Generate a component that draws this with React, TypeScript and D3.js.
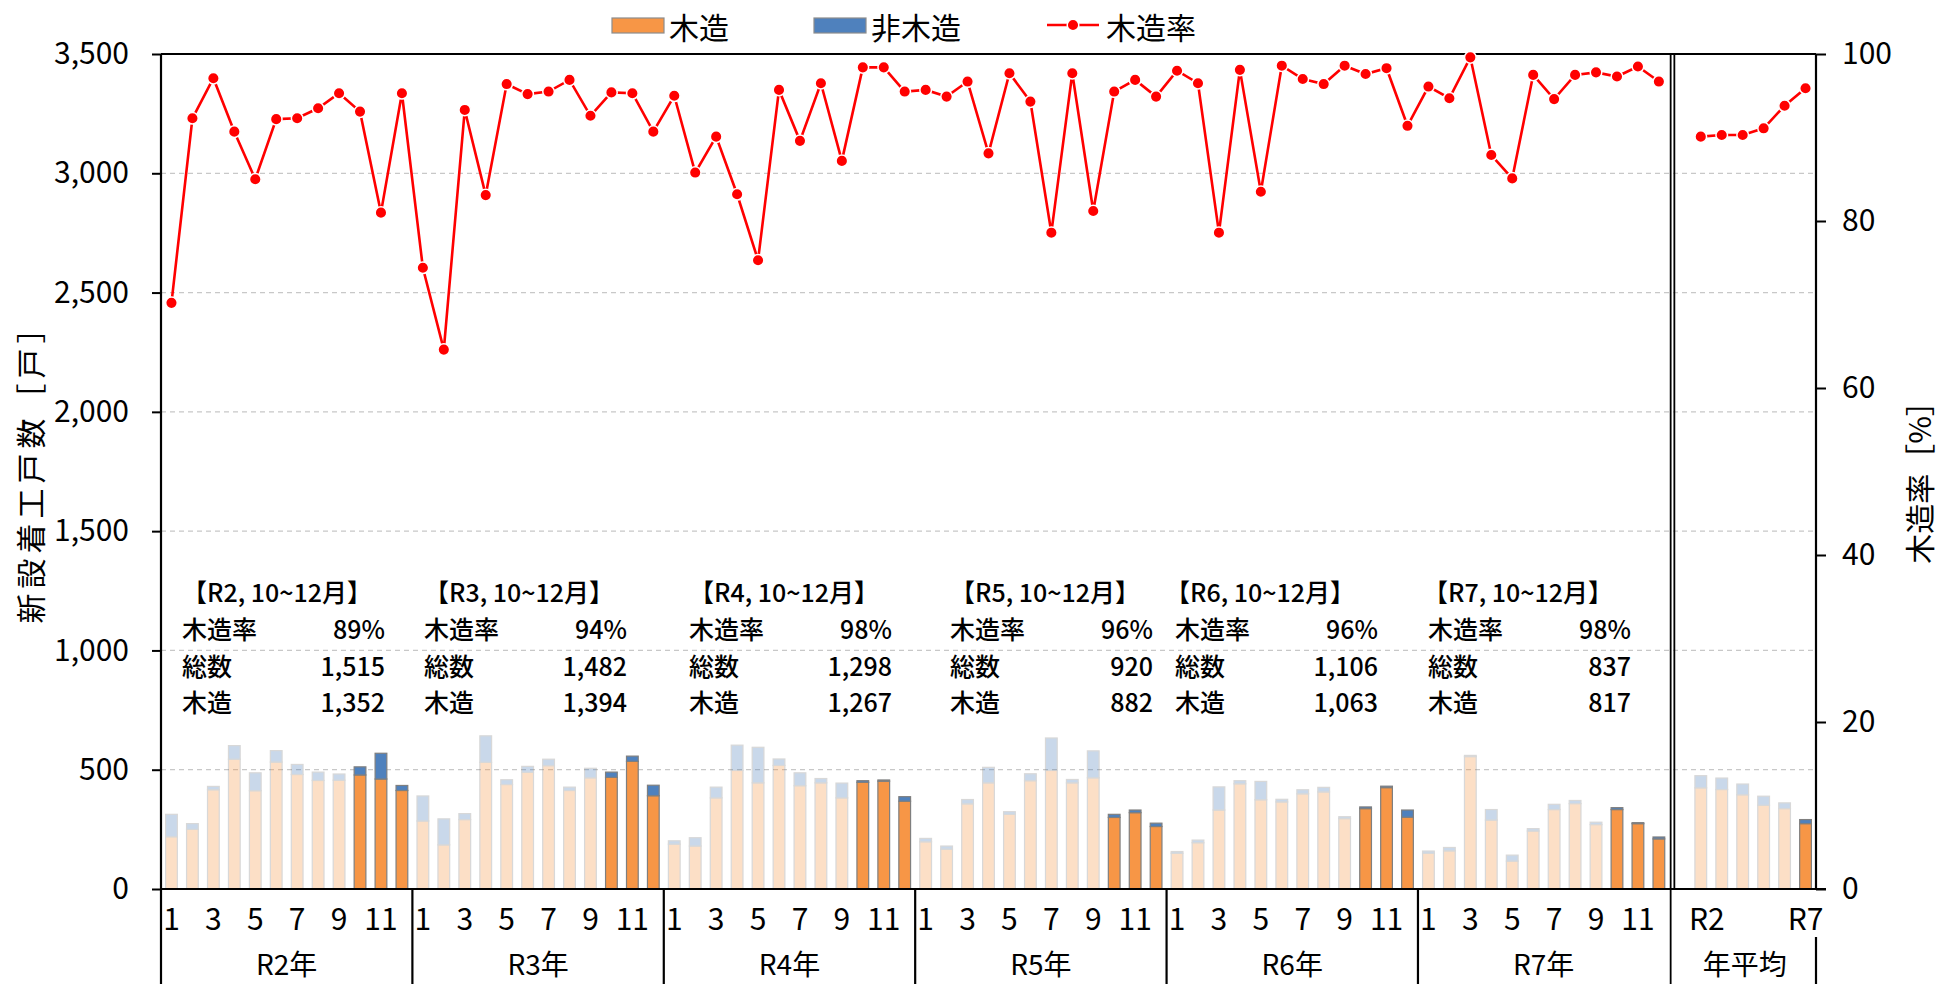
import React, { useEffect, useRef } from 'react';
import * as d3 from 'd3';

// years and months
const years = ['R2', 'R3', 'R4', 'R5', 'R6', 'R7'];
const monthTicks = [1, 3, 5, 7, 9, 11];

// monthly wooden housing starts (R2..R7, Jan..Dec)
const woodMonthly = [
  219, 250, 416, 544, 412, 532, 480, 455, 456, 478, 461, 413,
  285, 185, 291, 531, 438, 489, 517, 413, 466, 468, 535, 391,
  188, 180, 382, 497, 445, 518, 433, 445, 382, 447, 452, 368,
  198, 167, 357, 445, 313, 454, 497, 445, 466, 300, 320, 262,
  150, 194, 331, 441, 374, 365, 399, 407, 295, 337, 425, 301,
  150, 160, 555, 289, 117, 243, 333, 358, 270, 333, 274, 210,
];

// monthly non-wooden housing starts
const nonWoodMonthly = [
  94, 24, 14, 57, 75, 48, 42, 35, 26, 34, 108, 21,
  105, 109, 25, 111, 20, 25, 27, 14, 40, 22, 22, 44,
  14, 35, 45, 106, 149, 27, 54, 18, 62, 7, 5, 19,
  14, 13, 18, 65, 11, 29, 136, 14, 113, 13, 11, 14,
  7, 11, 97, 13, 77, 11, 17, 19, 8, 7, 6, 30,
  9, 14, 5, 44, 25, 10, 22, 13, 10, 8, 4, 8,
];

// monthly wood ratio [%]
const ratioMonthly = [
  70.2, 92.3, 97.1, 90.7, 85.0, 92.2, 92.3, 93.5, 95.3, 93.1, 81.0, 95.3,
  74.4, 64.6, 93.3, 83.1, 96.4, 95.2, 95.5, 96.9, 92.6, 95.4, 95.3, 90.7,
  95.0, 85.8, 90.1, 83.2, 75.3, 95.7, 89.6, 96.5, 87.2, 98.4, 98.4, 95.5,
  95.7, 94.9, 96.7, 88.1, 97.7, 94.3, 78.6, 97.7, 81.2, 95.5, 96.9, 94.9,
  98.0, 96.5, 78.6, 98.1, 83.5, 98.6, 97.0, 96.4, 98.6, 97.6, 98.3, 91.4,
  96.1, 94.7, 99.6, 87.9, 85.1, 97.5, 94.6, 97.5, 97.8, 97.3, 98.5, 96.7,
];

// yearly averages
const woodAnnual = [424, 417, 395, 351, 337, 274];
const nonWoodAnnual = [51, 48, 45, 38, 24, 17];
const ratioAnnual = [90.1, 90.3, 90.3, 91.1, 93.8, 95.9];

// Oct-Dec summary text
const q4Rate = [89, 94, 98, 96, 96, 98];
const q4Total = [1515, 1482, 1298, 920, 1106, 837];
const q4Wood = [1352, 1394, 1267, 882, 1063, 817];

const leftTicks = [0, 500, 1000, 1500, 2000, 2500, 3000, 3500];
const rightTicks = [0, 20, 40, 60, 80, 100];

const W = 1939;
const H = 984;
const left = 161, right = 1816, top = 54, bottom = 889;
const FONT = "'Noto Sans CJK JP', 'Noto Sans', sans-serif";
const ORANGE = '#F79646';
const BLUE = '#4F81BD';
const RED = '#FF0000';

// annotation layout
const blockLeft = [182, 424, 689, 950, 1175, 1428];
const titleDx = [0, 0, 0, 0, -10, -5];

const App: React.FC = () => {
  const ref = useRef<SVGSVGElement | null>(null);

  useEffect(() => {
    if (!ref.current) return;
    const svg = d3.select(ref.current);
    svg.selectAll('*').remove();

    const x = d3
      .scaleBand<number>()
      .domain(d3.range(79))
      .range([left, right])
      .paddingInner(0.44)
      .paddingOuter(0.22);
    const step = x.step();
    const cx = (i: number) => (x(i) as number) + x.bandwidth() / 2;
    const y = d3.scaleLinear().domain([0, 3500]).range([bottom, top]);
    const yR = d3.scaleLinear().domain([0, 100]).range([bottom, top]);
    const sepX = left + 72 * step;

    // gridlines
    svg
      .append('g')
      .selectAll('line')
      .data(leftTicks.filter((t) => t > 0 && t < 3500))
      .join('line')
      .attr('x1', left)
      .attr('x2', right)
      .attr('y1', (d) => y(d))
      .attr('y2', (d) => y(d))
      .attr('stroke', '#c8c8c8')
      .attr('stroke-width', 1.2)
      .attr('stroke-dasharray', '5,4');

    // bars (Oct-Dec and the latest annual average in full colour)
    const bars = [
      ...woodMonthly.map((w, i) => ({ slot: i, wood: w, non: nonWoodMonthly[i], hi: i % 12 >= 9 })),
      ...woodAnnual.map((w, i) => ({ slot: 73 + i, wood: w, non: nonWoodAnnual[i], hi: i === 5 })),
    ];
    const bg = svg
      .append('g')
      .selectAll('g')
      .data(bars)
      .join('g')
      .attr('opacity', (d) => (d.hi ? 1 : 0.3));
    bg.append('rect')
      .attr('x', (d) => x(d.slot) as number)
      .attr('width', x.bandwidth())
      .attr('y', (d) => y(d.wood))
      .attr('height', (d) => y(0) - y(d.wood))
      .attr('fill', ORANGE)
      .attr('stroke', '#7f7f7f')
      .attr('stroke-width', 1.2);
    bg.append('rect')
      .attr('x', (d) => x(d.slot) as number)
      .attr('width', x.bandwidth())
      .attr('y', (d) => y(d.wood + d.non))
      .attr('height', (d) => y(d.wood) - y(d.wood + d.non))
      .attr('fill', BLUE)
      .attr('stroke', '#7f7f7f')
      .attr('stroke-width', 1.2);

    // left axis
    const ga = svg
      .append('g')
      .attr('transform', `translate(${left},0)`)
      .call(d3.axisLeft(y).tickValues(leftTicks).tickSize(9).tickPadding(23).tickFormat(d3.format(',')));
    ga.select('.domain').remove();
    ga.selectAll('line').attr('stroke', '#000').attr('stroke-width', 2);
    ga.selectAll('text').attr('font-size', 30).attr('font-family', FONT).attr('fill', '#000');

    // right axis
    const gr = svg
      .append('g')
      .attr('transform', `translate(${right},0)`)
      .call(d3.axisRight(yR).tickValues(rightTicks).tickSize(10).tickPadding(16));
    gr.select('.domain').remove();
    gr.selectAll('line').attr('stroke', '#000').attr('stroke-width', 2);
    gr.selectAll('text').attr('font-size', 30).attr('font-family', FONT).attr('fill', '#000');

    // frame
    const frame = svg.append('g').attr('stroke', '#000').attr('stroke-width', 2.2);
    frame.append('line').attr('x1', left).attr('x2', left).attr('y1', top).attr('y2', H);
    frame.append('line').attr('x1', right).attr('x2', right).attr('y1', top).attr('y2', bottom);
    frame.append('line').attr('x1', right).attr('x2', right).attr('y1', 937).attr('y2', H);
    frame.append('line').attr('x1', left).attr('x2', right).attr('y1', top).attr('y2', top);
    frame.append('line').attr('x1', left).attr('x2', right + 10).attr('y1', bottom).attr('y2', bottom);
    frame.append('line').attr('x1', sepX + 1.3).attr('x2', sepX + 1.3).attr('y1', top).attr('y2', H).attr('stroke-width', 1.8);
    frame.append('line').attr('x1', sepX + 5).attr('x2', sepX + 5).attr('y1', top).attr('y2', bottom).attr('stroke-width', 1.8);
    frame
      .selectAll('line.grp')
      .data(d3.range(1, 6))
      .join('line')
      .attr('class', 'grp')
      .attr('x1', (g) => left + g * 12 * step)
      .attr('x2', (g) => left + g * 12 * step)
      .attr('y1', bottom)
      .attr('y2', H);

    // category labels
    const lab = svg.append('g').attr('font-family', FONT).attr('font-size', 30).attr('text-anchor', 'middle').attr('fill', '#000');
    years.forEach((yr, g) => {
      monthTicks.forEach((m) => {
        lab.append('text').attr('x', cx(g * 12 + m - 1)).attr('y', 917).attr('dominant-baseline', 'central').text(m);
      });
      lab
        .append('text')
        .attr('x', left + (g * 12 + 6) * step)
        .attr('y', 963)
        .attr('font-size', 28)
        .attr('dominant-baseline', 'central')
        .text(`${yr}年`);
    });
    lab.append('text').attr('x', cx(73) + 6).attr('y', 917).attr('dominant-baseline', 'central').text(years[0]);
    lab.append('text').attr('x', cx(78)).attr('y', 917).attr('dominant-baseline', 'central').text(years[5]);
    lab
      .append('text')
      .attr('x', (sepX + right) / 2 + 2)
      .attr('y', 963)
      .attr('font-size', 28)
      .attr('dominant-baseline', 'central')
      .text('年平均');

    // axis titles
    svg
      .append('text')
      .attr('transform', 'translate(29,466) rotate(-90)')
      .attr('text-anchor', 'middle')
      .attr('dominant-baseline', 'central')
      .attr('font-family', FONT)
      .attr('font-size', 30)
      .attr('letter-spacing', 5)
      .text('新設着工戸数［戸］');
    svg
      .append('text')
      .attr('transform', 'translate(1918,475) rotate(-90)')
      .attr('text-anchor', 'middle')
      .attr('dominant-baseline', 'central')
      .attr('font-family', FONT)
      .attr('font-size', 30)
      .text('木造率［%］');

    // Oct-Dec summary blocks: one text box each
    const fmt = d3.format(',');
    years.forEach((yr, i) => {
      const x0 = blockLeft[i];
      const x1 = x0 + 203;
      const t = svg
        .append('text')
        .attr('font-family', FONT)
        .attr('font-size', 25)
        .attr('font-weight', 500)
        .attr('fill', '#000')
        .attr('dominant-baseline', 'central');
      t.append('tspan').attr('x', x0 + titleDx[i]).attr('y', 591).text(`【${yr}, 10~12月】`);
      const rows = [
        ['木造率', `${q4Rate[i]}%`],
        ['総数', fmt(q4Total[i])],
        ['木造', fmt(q4Wood[i])],
      ];
      rows.forEach(([k, v], r) => {
        const ty = 628 + r * 36.5;
        t.append('tspan').attr('x', x0).attr('y', ty).attr('text-anchor', 'start').text(k);
        t.append('tspan').attr('x', x1).attr('y', ty).attr('text-anchor', 'end').text(v);
      });
    });

    // ratio line
    const line = d3
      .line<{ slot: number; v: number }>()
      .x((d) => cx(d.slot))
      .y((d) => yR(d.v));
    const series = [
      ratioMonthly.map((v, i) => ({ slot: i, v })),
      ratioAnnual.map((v, i) => ({ slot: 73 + i, v })),
    ];
    series.forEach((s) => {
      svg.append('path').datum(s).attr('d', line).attr('fill', 'none').attr('stroke', RED).attr('stroke-width', 2.6);
      svg
        .append('g')
        .selectAll('circle')
        .data(s)
        .join('circle')
        .attr('cx', (d) => cx(d.slot))
        .attr('cy', (d) => yR(d.v))
        .attr('r', 5.8)
        .attr('fill', RED)
        .attr('stroke', '#fff')
        .attr('stroke-width', 1.5);
    });

    // legend
    const lg = svg.append('g').attr('font-family', FONT).attr('font-size', 30).attr('fill', '#000');
    lg.append('rect').attr('x', 612).attr('y', 18).attr('width', 52).attr('height', 15).attr('fill', ORANGE).attr('stroke', '#8c8c8c').attr('stroke-width', 1.2);
    lg.append('text').attr('x', 669).attr('y', 26).attr('dominant-baseline', 'central').text('木造');
    lg.append('rect').attr('x', 814).attr('y', 18).attr('width', 52).attr('height', 15).attr('fill', BLUE).attr('stroke', '#8c8c8c').attr('stroke-width', 1.2);
    lg.append('text').attr('x', 871).attr('y', 26).attr('dominant-baseline', 'central').text('非木造');
    lg.append('line').attr('x1', 1047).attr('x2', 1099).attr('y1', 25).attr('y2', 25).attr('stroke', RED).attr('stroke-width', 2.6);
    lg.append('circle').attr('cx', 1073).attr('cy', 25).attr('r', 5.8).attr('fill', RED).attr('stroke', '#fff').attr('stroke-width', 1.5);
    lg.append('text').attr('x', 1106).attr('y', 26).attr('dominant-baseline', 'central').text('木造率');
  }, []);

  return (
    <svg
      ref={ref}
      width={W}
      height={H}
      style={{ position: 'absolute', left: 0, top: 0, background: '#fff' }}
    />
  );
};

export default App;
